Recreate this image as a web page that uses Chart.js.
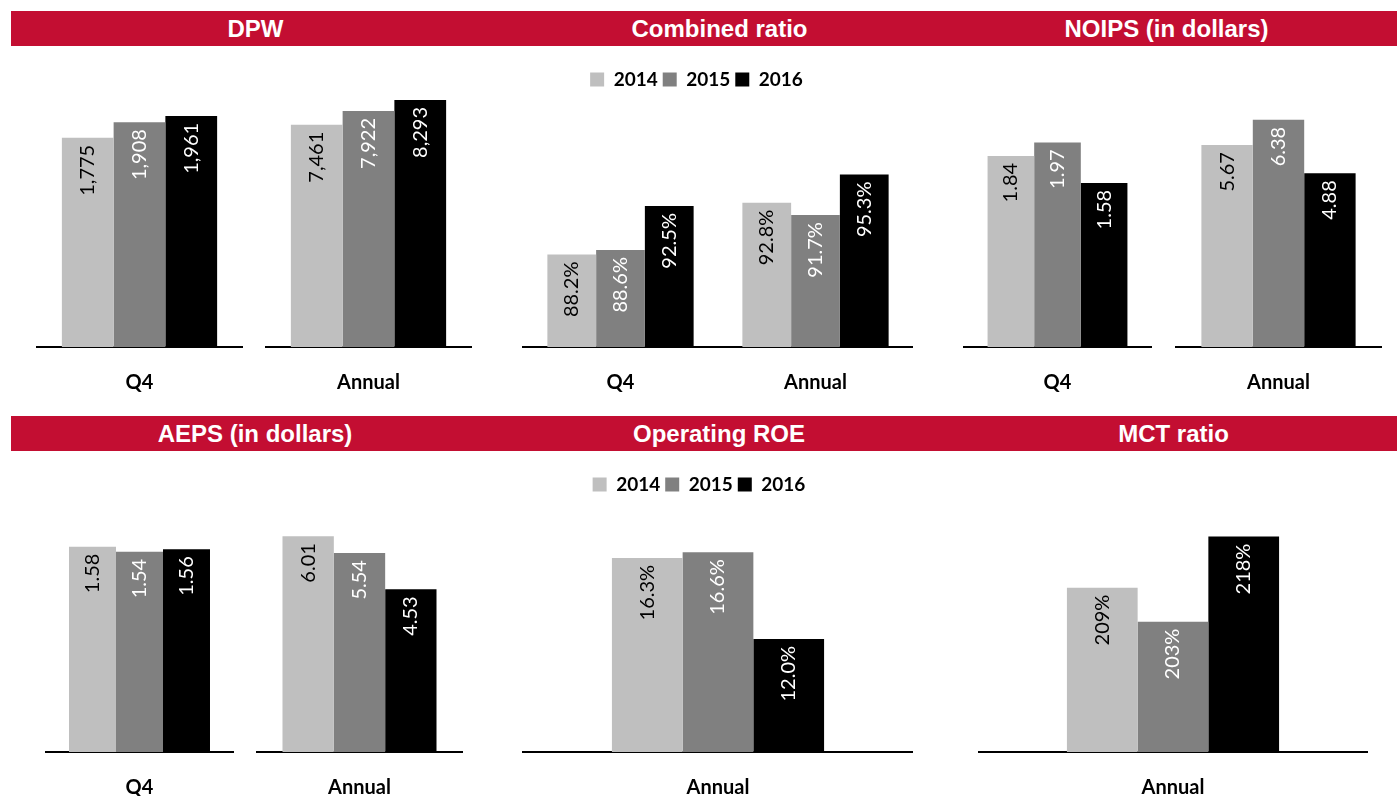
<!DOCTYPE html>
<html>
<head>
<meta charset="utf-8">
<script src="https://cdn.jsdelivr.net/npm/chart.js@4.4.0/dist/chart.umd.min.js"></script>
<style>
  body { margin: 0; width: 1397px; height: 796px; overflow: hidden; background: #fff; position: relative; }
  .band { position: absolute; left: 11px; width: 1386px; height: 35px; background: #C30E32; }
  .band span { position: absolute; top: 0; color: #fff; font: bold 24px "Liberation Sans", Arial, sans-serif; line-height: 35px; transform: translateX(-50%); white-space: nowrap; }
  canvas { position: absolute; }
</style>
</head>
<body>
<div class="band" style="top:11px">
  <span style="left:244.5px">DPW</span>
  <span style="left:708.5px">Combined ratio</span>
  <span style="left:1155.5px">NOIPS (in dollars)</span>
</div>
<div class="band" style="top:416px">
  <span style="left:244px">AEPS (in dollars)</span>
  <span style="left:708px">Operating ROE</span>
  <span style="left:1162.5px">MCT ratio</span>
</div>

<canvas id="dpwQ4" width="207" height="369" style="left:36px;top:50px"></canvas>
<canvas id="dpwAnn" width="207" height="369" style="left:265px;top:50px"></canvas>
<canvas id="cr" width="433" height="354" style="left:480px;top:65px"></canvas>
<canvas id="noipsQ4" width="189" height="369" style="left:963px;top:50px"></canvas>
<canvas id="noipsAnn" width="207" height="369" style="left:1175px;top:50px"></canvas>
<canvas id="aepsQ4" width="189" height="369" style="left:45px;top:455px"></canvas>
<canvas id="aepsAnn" width="207" height="369" style="left:256px;top:455px"></canvas>
<canvas id="roe" width="428" height="354" style="left:485px;top:470px"></canvas>
<canvas id="mct" width="390" height="369" style="left:978px;top:455px"></canvas>

<script>
// data
const years = ['2014', '2015', '2016'];
const yearColors = ['#BFBFBF', '#808080', '#000000'];

const dpwQ4 = [1775, 1908, 1961];
const dpwAnnual = [7461, 7922, 8293];
const crQ4 = [88.2, 88.6, 92.5];
const crAnnual = [92.8, 91.7, 95.3];
const noipsQ4 = [1.84, 1.97, 1.58];
const noipsAnnual = [5.67, 6.38, 4.88];
const aepsQ4 = [1.58, 1.54, 1.56];
const aepsAnnual = [6.01, 5.54, 4.53];
const roeAnnual = [16.3, 16.6, 12.0];
const mctAnnual = [209, 203, 218];

// formats
const fmtThousands = v => v.toLocaleString('en-US');
const fmtPct1 = v => v.toFixed(1) + '%';
const fmtDollar = v => v.toFixed(2);
const fmtPct0 = v => v.toFixed(0) + '%';

// rotated value labels inside the bars
function valueLabels(fmt) {
    return {
        id: 'valueLabels',
        afterDatasetsDraw(chart) {
            const ctx = chart.ctx;
            chart.data.datasets.forEach((ds, i) => {
                chart.getDatasetMeta(i).data.forEach((bar, j) => {
                    ctx.save();
                    ctx.translate(bar.x, bar.y + 7);
                    ctx.rotate(-Math.PI / 2);
                    ctx.textAlign = 'right';
                    ctx.textBaseline = 'middle';
                    ctx.font = '20px Lato';
                    ctx.fillStyle = i === 0 ? '#000' : '#fff';
                    ctx.fillText(fmt(ds.data[j]), 0, 0);
                    ctx.restore();
                });
            });
        }
    };
}

// one dataset per year, values taken per category
function yearSets(seriesByCategory) {
    return years.map((y, i) => ({
        label: y,
        data: seriesByCategory.map(s => s[i]),
        backgroundColor: yearColors[i],
        borderWidth: 0
    }));
}

function makeChart(id, labels, series, fmt, yMin, yMax, catPct, legendAxisWidth) {
    const withLegend = legendAxisWidth !== undefined;
    new Chart(document.getElementById(id), {
        type: 'bar',
        data: { labels: labels, datasets: yearSets(series) },
        options: {
            responsive: false,
            animation: false,
            events: [],
            categoryPercentage: catPct,
            barPercentage: 1.0,
            layout: { padding: 0 },
            plugins: {
                tooltip: { enabled: false },
                legend: {
                    display: withLegend,
                    position: 'top',
                    labels: {
                        boxWidth: 14,
                        boxHeight: 14,
                        padding: 5,
                        color: '#000',
                        font: { family: 'Lato', weight: 'bold', size: 19 }
                    }
                }
            },
            scales: {
                x: {
                    grid: { display: false, drawTicks: false },
                    border: { display: true, color: '#000', width: 2 },
                    ticks: { padding: 24, color: '#000', font: { family: 'Lato', weight: 'bold', size: 20 } }
                },
                y: {
                    display: withLegend,
                    min: yMin,
                    max: yMax,
                    grid: { display: false, drawTicks: false },
                    border: { display: false },
                    ticks: { display: false },
                    afterFit: s => { if (withLegend) s.width = legendAxisWidth; }
                }
            }
        },
        plugins: [valueLabels(fmt)]
    });
}

makeChart('dpwQ4', ['Q4'], [dpwQ4], fmtThousands, 0, 2520, 0.75);
makeChart('dpwAnn', ['Annual'], [dpwAnnual], fmtThousands, 0, 9970, 0.75);
makeChart('cr', ['Q4', 'Annual'], [crQ4, crAnnual], fmtPct1, 80, 102.0, 0.75, 43);
makeChart('noipsQ4', ['Q4'], [noipsQ4], fmtDollar, 0, 2.86, 0.74);
makeChart('noipsAnn', ['Annual'], [noipsAnnual], fmtDollar, 0, 8.34, 0.745);
makeChart('aepsQ4', ['Q4'], [aepsQ4], fmtDollar, 0, 2.285, 0.746);
makeChart('aepsAnn', ['Annual'], [aepsAnnual], fmtDollar, 0, 8.27, 0.744);
makeChart('roe', ['Annual'], [roeAnnual], fmtPct1, 6, 19.16, 0.544, 38);
makeChart('mct', ['Annual'], [mctAnnual], fmtPct0, 180, 232.4, 0.544);
</script>
</body>
</html>
